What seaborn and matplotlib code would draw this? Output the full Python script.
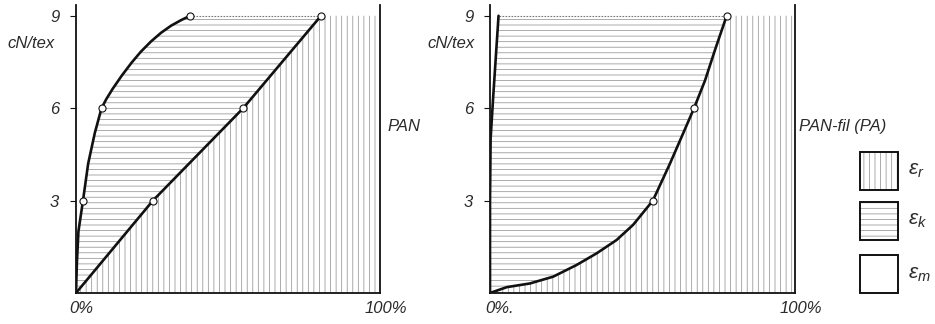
import numpy as np
import matplotlib
matplotlib.use("Agg")
import matplotlib.pyplot as plt
from matplotlib.patches import Rectangle
import seaborn as sns

# ---- data: stress (cN/tex) against share of strain (%) ----
stress_ticks = [3, 6, 9]
strain_labels_pan = ["0%", "100%"]
strain_labels_pa = ["0%.", "100%"]

# PAN: total-strain boundary (left curve) and remaining-strain boundary (right line)
pan_left_x = [0, 0.3, 0.8, 2.3, 4.0, 6.2, 8.4, 10.0, 12.0, 15.0, 18.3, 21.3,
              24.6, 28.0, 31.3, 34.6, 37.5]
pan_left_y = [0, 1.0, 2.0, 3.0, 4.2, 5.2, 6.0, 6.3, 6.62, 7.05, 7.48, 7.83,
              8.16, 8.45, 8.68, 8.86, 9.0]
pan_right_x = [0, 25.3, 55.0, 80.6]
pan_right_y = [0, 3.0, 6.0, 9.0]
pan_left_marks_x = [2.3, 8.4, 37.5]
pan_right_marks_x = [25.3, 55.0, 80.6]
pan_marks_y = [3, 6, 9]

# PAN-fil (PA)
pa_left_x = [0, 0, 0.2, 1.0, 2.8]
pa_left_y = [0, 3.0, 5.0, 6.3, 9.0]
pa_right_x = [0, 5.5, 13.1, 20.7, 28.4, 35.0, 41.5, 46.9, 53.4, 59.0, 63.4,
              66.9, 70.5, 73.8, 77.6]
pa_right_y = [0, 0.19, 0.31, 0.53, 0.91, 1.29, 1.72, 2.21, 3.0, 4.2, 5.2,
              6.0, 6.9, 7.9, 9.0]
pa_right_marks_x = [53.4, 66.9, 77.6]
pa_marks_y = [3, 6, 9]

legend_labels = [r"$\varepsilon_r$", r"$\varepsilon_k$", r"$\varepsilon_m$"]

# ---- style ----
sns.set_theme(style="white")
plt.rcParams["font.family"] = ["Liberation Sans", "DejaVu Sans"]
plt.rcParams["font.style"] = "italic"
plt.rcParams["mathtext.fontset"] = "custom"
plt.rcParams["mathtext.it"] = "Liberation Sans:italic"
plt.rcParams["mathtext.rm"] = "Liberation Sans"
plt.rcParams["hatch.linewidth"] = 0.55

INK = "#111111"
TEXT = "#2a2a2a"
HATCH = "#959595"
TOP = 9.0

fig = plt.figure(figsize=(9.35, 3.24), dpi=100)
fig.patch.set_facecolor("white")
ax_pan = fig.add_axes([76 / 935, 31 / 324, 304 / 935, 288 / 324])
ax_pa = fig.add_axes([490 / 935, 31 / 324, 305 / 935, 288 / 324])


def style_axes(ax, xlabels, xlabel_pos, ylabel_x):
    ax.set_xlim(0, 100)
    ax.set_ylim(0, 9.35)
    ax.set_facecolor("none")
    ax.spines["top"].set_visible(False)
    for side in ("left", "right", "bottom"):
        ax.spines[side].set_visible(True)
        ax.spines[side].set_color(INK)
        ax.spines[side].set_linewidth(1.3)
    ax.set_yticks(stress_ticks)
    ax.set_yticklabels([str(t) for t in stress_ticks])
    ax.set_xticks([])
    ax.tick_params(axis="y", left=True, length=4, width=0.8, color=INK,
                   pad=8, labelsize=12, labelcolor=TEXT)
    ax.set_xlabel("")
    ax.set_ylabel("")
    for text, pos in zip(xlabels, xlabel_pos):
        ax.text(pos, -0.055, text, transform=ax.get_xaxis_transform(),
                ha="center", va="center", fontsize=12, color=TEXT)
    ax.text(ylabel_x, 8.1, "cN/tex", transform=ax.get_yaxis_transform(),
            ha="right", va="center", fontsize=12, color=TEXT)


def shade(ax, left_x, left_y, right_x, right_y):
    # band between the two boundaries: horizontal hatching
    kx = list(left_x) + list(right_x[::-1])
    ky = list(left_y) + list(right_y[::-1])
    ax.fill(kx, ky, facecolor="none", edgecolor=HATCH, linewidth=0,
            hatch="---", zorder=1)
    # band right of the second boundary: vertical hatching
    rx = list(right_x) + [100, 100]
    ry = list(right_y) + [TOP, 0]
    ax.fill(rx, ry, facecolor="none", edgecolor=HATCH, linewidth=0,
            hatch="|||", zorder=1)
    # dotted top edge of the hatched band
    ax.plot([left_x[-1], right_x[-1]], [TOP, TOP], color="#777777",
            lw=0.8, ls=(0, (1.5, 1.2)), zorder=2)


def curve(ax, xs, ys):
    sns.lineplot(x=xs, y=ys, sort=False, estimator=None, color=INK,
                 lw=1.9, ax=ax, zorder=3)


def marks(ax, xs, ys):
    sns.scatterplot(x=xs, y=ys, s=26, facecolor="white", edgecolor=INK,
                    linewidth=0.8, ax=ax, zorder=4)


# ---- PAN ----
shade(ax_pan, pan_left_x, pan_left_y, pan_right_x, pan_right_y)
curve(ax_pan, pan_left_x, pan_left_y)
curve(ax_pan, pan_right_x, pan_right_y)
marks(ax_pan, pan_left_marks_x, pan_marks_y)
marks(ax_pan, pan_right_marks_x, pan_marks_y)
style_axes(ax_pan, strain_labels_pan, [1.6, 101.9], -0.069)
ax_pan.text(1.026, 5.4, "PAN", transform=ax_pan.get_yaxis_transform(),
            ha="left", va="center", fontsize=12, color=TEXT)

# ---- PAN-fil (PA) ----
shade(ax_pa, pa_left_x, pa_left_y, pa_right_x, pa_right_y)
curve(ax_pa, pa_left_x, pa_left_y)
curve(ax_pa, pa_right_x, pa_right_y)
marks(ax_pa, pa_right_marks_x, pa_marks_y)
style_axes(ax_pa, strain_labels_pa, [3.3, 101.9], -0.049)
ax_pa.text(1.013, 5.4, "PAN-fil (PA)", transform=ax_pa.get_yaxis_transform(),
           ha="left", va="center", fontsize=12, color=TEXT)

# ---- key ----
ax_key = fig.add_axes([850 / 935, 28 / 324, 85 / 935, 150 / 324])
ax_key.set_xlim(0, 85)
ax_key.set_ylim(0, 150)
ax_key.axis("off")
key_hatches = ["|||", "---", ""]
key_bottoms = [106, 56, 3]
for label, hatch, y0 in zip(legend_labels, key_hatches, key_bottoms):
    ax_key.add_patch(Rectangle((10, y0), 38, 38, facecolor="none",
                               edgecolor=HATCH, hatch=hatch, linewidth=0))
    ax_key.add_patch(Rectangle((10, y0), 38, 38, facecolor="none",
                               edgecolor=INK, linewidth=1.4))
    ax_key.text(58, y0 + 19, label, ha="left", va="center",
                fontsize=15, color=TEXT)

fig.savefig("out.png", dpi=100, facecolor="white")
